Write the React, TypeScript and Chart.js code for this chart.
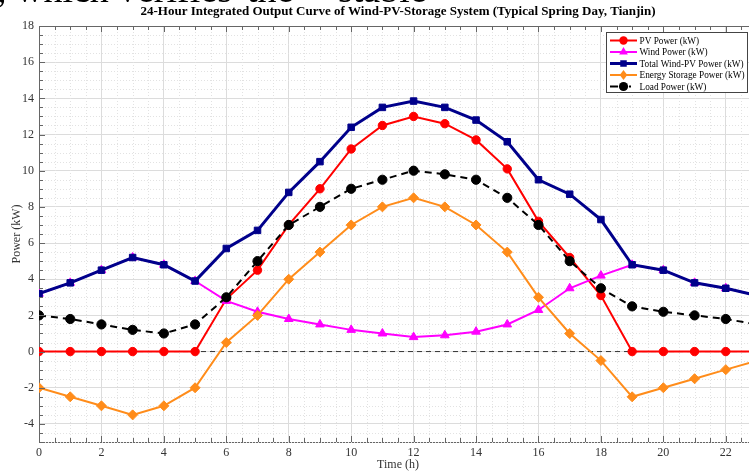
import React, { useEffect, useRef } from "react";
import { Chart, registerables } from "chart.js";

Chart.register(...registerables);

const hours = [0, 1, 2, 3, 4, 5, 6, 7, 8, 9, 10, 11, 12, 13, 14, 15, 16, 17, 18, 19, 20, 21, 22, 23];
const pvPower = [0, 0, 0, 0, 0, 0, 2.9, 4.5, 7.0, 9.0, 11.2, 12.5, 13.0, 12.6, 11.7, 10.1, 7.2, 5.2, 3.1, 0, 0, 0, 0, 0];
const windPower = [3.2, 3.8, 4.5, 5.2, 4.8, 3.9, 2.8, 2.2, 1.8, 1.5, 1.2, 1.0, 0.8, 0.9, 1.1, 1.5, 2.3, 3.5, 4.2, 4.8, 4.5, 3.8, 3.5, 3.1];
const totalPower = [3.2, 3.8, 4.5, 5.2, 4.8, 3.9, 5.7, 6.7, 8.8, 10.5, 12.4, 13.5, 13.85, 13.5, 12.8, 11.6, 9.5, 8.7, 7.3, 4.8, 4.5, 3.8, 3.5, 3.1];
const storagePower = [-2, -2.5, -3, -3.5, -3, -2, 0.5, 2, 4, 5.5, 7, 8, 8.5, 8, 7, 5.5, 3, 1, -0.5, -2.5, -2, -1.5, -1, -0.5];
const loadPower = [2, 1.8, 1.5, 1.2, 1, 1.5, 3, 5, 7, 8, 9, 9.5, 10, 9.8, 9.5, 8.5, 7, 5, 3.5, 2.5, 2.2, 2, 1.8, 1.5];

const xTicks = [0, 2, 4, 6, 8, 10, 12, 14, 16, 18, 20, 22];
const yTicks = [-4, -2, 0, 2, 4, 6, 8, 10, 12, 14, 16, 18];
const xRange = [0, 23];
const yRange = [-5, 18];

const titleText = "24-Hour Integrated Output Curve of Wind-PV-Storage System (Typical Spring Day, Tianjin)";
const xTitle = "Time (h)";
const yTitle = "Power (kW)";

const seriesNames = ["PV Power (kW)", "Wind Power (kW)", "Total Wind-PV Power (kW)", "Energy Storage Power (kW)", "Load Power (kW)"];

const SERIF = "'Liberation Serif', 'Times New Roman', serif";
const RED = "#ff0000";
const MAGENTA = "#ff00ff";
const NAVY = "#00008b";
const ORANGE = "#ff8c1a";
const BLACK = "#000000";

const styles = [
  { color: RED, point: "circle", radius: 4.2, width: 2, dash: [] as number[], order: 4 },
  { color: MAGENTA, point: "triangle", radius: 5, width: 2, dash: [] as number[], order: 3 },
  { color: NAVY, point: "rect", radius: 4.6, width: 3, dash: [] as number[], order: 2 },
  { color: ORANGE, point: "rectRot", radius: 5, width: 2, dash: [] as number[], order: 1 },
  { color: BLACK, point: "circle", radius: 4.6, width: 2, dash: [7, 5], order: 0 },
];

const seriesValues = [pvPower, windPower, totalPower, storagePower, loadPower];

function drawMarker(ctx: CanvasRenderingContext2D, style: string, r: number, cx: number, cy: number) {
  ctx.beginPath();
  if (style === "circle") {
    ctx.arc(cx, cy, r, 0, Math.PI * 2);
  } else if (style === "rect") {
    const s = r * Math.SQRT1_2;
    ctx.rect(cx - s, cy - s, 2 * s, 2 * s);
  } else if (style === "triangle") {
    ctx.moveTo(cx, cy - r);
    ctx.lineTo(cx + r * 0.866, cy + r * 0.5);
    ctx.lineTo(cx - r * 0.866, cy + r * 0.5);
    ctx.closePath();
  } else if (style === "rectRot") {
    ctx.moveTo(cx, cy - r);
    ctx.lineTo(cx + r * 0.75, cy);
    ctx.lineTo(cx, cy + r);
    ctx.lineTo(cx - r * 0.75, cy);
    ctx.closePath();
  }
  ctx.fill();
}

const gridPlugin = {
  id: "customGrid",
  beforeDatasetsDraw(chart: any) {
    const { ctx, chartArea: a, scales } = chart;
    const x = scales.x;
    const y = scales.y;
    ctx.save();
    ctx.strokeStyle = "#e2e2e2";
    ctx.lineWidth = 1;
    ctx.setLineDash([1, 2]);
    for (let v = xRange[0]; v <= xRange[1] + 1e-9; v += 0.5) {
      if (xTicks.includes(v)) continue;
      const px = Math.round(x.getPixelForValue(v)) + 0.5;
      ctx.beginPath();
      ctx.moveTo(px, a.top);
      ctx.lineTo(px, a.bottom);
      ctx.stroke();
    }
    for (let v = yRange[0]; v <= yRange[1] + 1e-9; v += 0.5) {
      if (yTicks.includes(v)) continue;
      const py = Math.round(y.getPixelForValue(v)) + 0.5;
      ctx.beginPath();
      ctx.moveTo(a.left, py);
      ctx.lineTo(a.right, py);
      ctx.stroke();
    }
    ctx.restore();
  },
  afterDraw(chart: any) {
    const { ctx, chartArea: a, scales } = chart;
    const x = scales.x;
    const y = scales.y;
    ctx.save();
    ctx.strokeStyle = "#666";
    ctx.lineWidth = 1;
    ctx.setLineDash([]);
    ctx.beginPath();
    ctx.moveTo(a.left, Math.round(a.top) + 0.5);
    ctx.lineTo(a.right, Math.round(a.top) + 0.5);
    ctx.stroke();
    for (let v = xRange[0]; v <= xRange[1] + 1e-9; v += 0.5) {
      const major = xTicks.includes(v);
      const len = major ? 6 : 4;
      const px = Math.round(x.getPixelForValue(v)) + 0.5;
      ctx.beginPath();
      ctx.moveTo(px, a.bottom);
      ctx.lineTo(px, a.bottom - len);
      ctx.moveTo(px, a.top);
      ctx.lineTo(px, a.top + len);
      ctx.stroke();
    }
    for (let v = yRange[0]; v <= yRange[1] + 1e-9; v += 0.5) {
      const major = yTicks.includes(v);
      const len = major ? 6 : 4;
      const py = Math.round(y.getPixelForValue(v)) + 0.5;
      ctx.beginPath();
      ctx.moveTo(a.left, py);
      ctx.lineTo(a.left + len, py);
      ctx.stroke();
    }
    // legend
    const bx = 606.5, by = 32.5, bw = 141, bh = 60;
    ctx.fillStyle = "#ffffff";
    ctx.fillRect(bx, by, bw, bh);
    ctx.strokeStyle = "#444";
    ctx.strokeRect(bx, by, bw, bh);
    ctx.font = "11px " + SERIF;
    const widest = Math.max(...seriesNames.map((s) => ctx.measureText(s).width));
    const sx = Math.min(1, 105 / widest);
    const rowY = [40.5, 52, 63.5, 75, 86.5];
    for (let i = 0; i < seriesNames.length; i++) {
      const st = styles[i];
      const yy = rowY[i];
      ctx.strokeStyle = st.color;
      ctx.lineWidth = st.width;
      ctx.beginPath();
      if (i === 4) {
        ctx.moveTo(610, yy);
        ctx.lineTo(618, yy);
        ctx.stroke();
        ctx.fillStyle = BLACK;
        ctx.fillRect(629, yy - 1, 2, 2);
      } else {
        ctx.moveTo(610, yy);
        ctx.lineTo(637, yy);
        ctx.stroke();
      }
      ctx.fillStyle = st.color;
      drawMarker(ctx, st.point, st.radius, 623.5, yy);
      ctx.save();
      ctx.translate(639.5, yy + 0.5);
      ctx.scale(sx, 1);
      ctx.fillStyle = "#000";
      ctx.font = "11px " + SERIF;
      ctx.textBaseline = "middle";
      ctx.textAlign = "left";
      ctx.fillText(seriesNames[i], 0, 0);
      ctx.restore();
    }
    ctx.restore();
  },
};

export default function App() {
  const canvasRef = useRef<HTMLCanvasElement | null>(null);

  useEffect(() => {
    if (!canvasRef.current) return;
    const datasets: any[] = seriesValues.map((vals, i) => ({
      label: seriesNames[i],
      data: hours.map((h, k) => ({ x: h, y: vals[k] })),
      borderColor: styles[i].color,
      backgroundColor: styles[i].color,
      borderWidth: styles[i].width,
      borderDash: styles[i].dash,
      pointStyle: styles[i].point,
      pointRadius: styles[i].radius,
      pointBorderWidth: 1,
      pointBackgroundColor: styles[i].color,
      pointBorderColor: styles[i].color,
      tension: 0,
      order: styles[i].order,
    }));
    datasets.push({
      label: "zero",
      data: [
        { x: xRange[0], y: 0 },
        { x: xRange[1], y: 0 },
      ],
      borderColor: "#333333",
      borderWidth: 1,
      borderDash: [5, 4],
      pointRadius: 0,
      order: 10,
    });

    const chart = new Chart(canvasRef.current, {
      type: "line",
      data: { datasets },
      plugins: [gridPlugin],
      options: {
        animation: false,
        responsive: true,
        maintainAspectRatio: false,
        layout: { padding: { left: 0, right: 29, top: 0, bottom: 0 } },
        plugins: {
          legend: { display: false },
          tooltip: { enabled: false },
          title: {
            display: true,
            fullSize: false,
            text: titleText,
            color: "#000",
            font: { family: SERIF, size: 13, weight: "bold" },
            padding: { top: 4, bottom: 6.4 },
          },
        },
        scales: {
          x: {
            type: "linear",
            min: xRange[0],
            max: xRange[1],
            afterBuildTicks: (scale: any) => {
              scale.ticks = xTicks.map((v) => ({ value: v }));
            },
            afterFit: (scale: any) => {
              scale.height = 30;
            },
            grid: { color: "#dcdcdc", lineWidth: 1, drawTicks: false },
            border: { display: true, color: "#666", width: 1 },
            ticks: {
              color: "#333",
              font: { family: SERIF, size: 12 },
              padding: 4,
              maxRotation: 0,
              autoSkip: false,
            },
            title: {
              display: true,
              text: xTitle,
              color: "#333",
              font: { family: SERIF, size: 12 },
              padding: { top: 0, bottom: 0 },
            },
          },
          y: {
            type: "linear",
            min: yRange[0],
            max: yRange[1],
            afterBuildTicks: (scale: any) => {
              scale.ticks = yTicks.map((v) => ({ value: v }));
            },
            afterFit: (scale: any) => {
              scale.width = 39;
            },
            grid: { color: "#dcdcdc", lineWidth: 1, drawTicks: false },
            border: { display: true, color: "#666", width: 1 },
            ticks: {
              color: "#333",
              font: { family: SERIF, size: 12 },
              padding: 5,
              autoSkip: false,
            },
            title: {
              display: true,
              text: yTitle,
              color: "#333",
              font: { family: SERIF, size: 12 },
              padding: { top: 10, bottom: 0 },
            },
          },
        },
      } as any,
    });
    return () => chart.destroy();
  }, []);

  const wordStyle: React.CSSProperties = {
    position: "absolute",
    top: -30,
    fontFamily: SERIF,
    fontSize: 38,
    lineHeight: 1,
    whiteSpace: "nowrap",
    color: "#000",
  };

  return (
    <div
      style={{
        position: "absolute",
        left: 0,
        top: 0,
        width: 749,
        height: 472,
        overflow: "hidden",
        background: "#fff",
      }}
    >
      <div style={{ position: "absolute", left: 0, top: 0, width: 786, height: 472 }}>
        <canvas ref={canvasRef} />
      </div>
      <span style={{ ...wordStyle, left: -3 }}>, which</span>
      <span style={{ ...wordStyle, left: 118 }}>verifies</span>
      <span style={{ ...wordStyle, left: 247 }}>the</span>
      <span style={{ ...wordStyle, left: 338 }}>stable</span>
    </div>
  );
}
